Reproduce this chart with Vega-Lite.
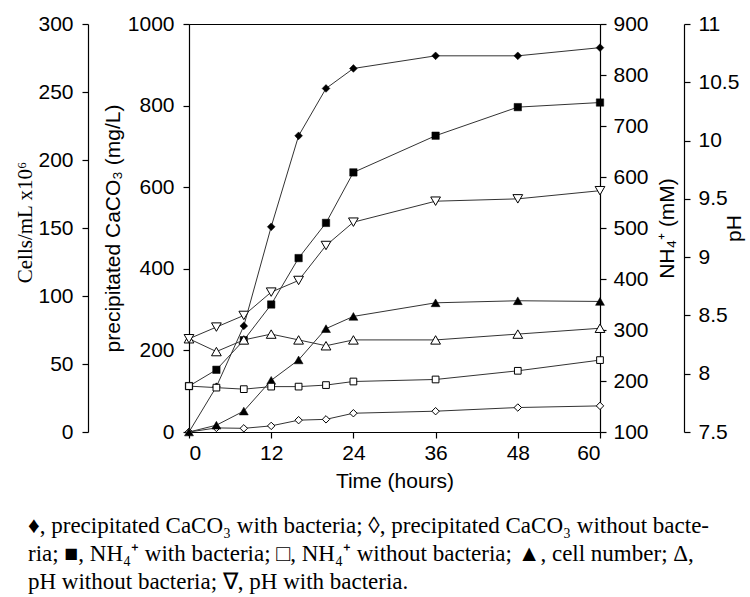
{
  "$schema": "https://vega.github.io/schema/vega-lite/v6.json",
  "width": 411,
  "height": 408,
  "autosize": {"type": "none"},
  "padding": {"left": 189, "top": 24, "right": 150, "bottom": 165},
  "background": "white",
  "config": {
    "view": {"stroke": "black", "strokeWidth": 1},
    "axis": {
      "grid": false,
      "domainColor": "black",
      "domainWidth": 1.2,
      "tickColor": "black",
      "tickWidth": 1.2,
      "tickSize": 6,
      "labelColor": "black",
      "labelFont": "Liberation Sans",
      "labelFontSize": 21,
      "titleColor": "black",
      "titleFont": "Liberation Sans",
      "titleFontSize": 21,
      "titleFontWeight": "normal"
    }
  },
  "title": {
    "text": [
      "♦, precipitated CaCO₃ with bacteria; ◊, precipitated CaCO₃ without bacte-",
      "ria; ■, NH₄⁺ with bacteria; □, NH₄⁺ without bacteria; ▲, cell number; Δ,",
      "pH without bacteria; ∇, pH with bacteria."
    ],
    "orient": "bottom",
    "anchor": "start",
    "frame": "group",
    "align": "left",
    "dx": -161,
    "offset": 24,
    "font": "Liberation Serif",
    "fontSize": 23,
    "fontWeight": "normal",
    "lineHeight": 28,
    "color": "black"
  },
  "data": {
    "values": [
      {"t": 0, "s": "caco3_b", "v": 0}, {"t": 4, "s": "caco3_b", "v": 111}, {"t": 8, "s": "caco3_b", "v": 260}, {"t": 12, "s": "caco3_b", "v": 503}, {"t": 16, "s": "caco3_b", "v": 726}, {"t": 20, "s": "caco3_b", "v": 842}, {"t": 24, "s": "caco3_b", "v": 891}, {"t": 36, "s": "caco3_b", "v": 922}, {"t": 48, "s": "caco3_b", "v": 922}, {"t": 60, "s": "caco3_b", "v": 942},
      {"t": 0, "s": "caco3_n", "v": 0}, {"t": 4, "s": "caco3_n", "v": 10}, {"t": 8, "s": "caco3_n", "v": 9}, {"t": 12, "s": "caco3_n", "v": 15}, {"t": 16, "s": "caco3_n", "v": 29}, {"t": 20, "s": "caco3_n", "v": 31}, {"t": 24, "s": "caco3_n", "v": 46}, {"t": 36, "s": "caco3_n", "v": 51}, {"t": 48, "s": "caco3_n", "v": 60}, {"t": 60, "s": "caco3_n", "v": 64},
      {"t": 0, "s": "nh4_b", "v": 190}, {"t": 4, "s": "nh4_b", "v": 222}, {"t": 8, "s": "nh4_b", "v": 280}, {"t": 12, "s": "nh4_b", "v": 350}, {"t": 16, "s": "nh4_b", "v": 441}, {"t": 20, "s": "nh4_b", "v": 510}, {"t": 24, "s": "nh4_b", "v": 609}, {"t": 36, "s": "nh4_b", "v": 681}, {"t": 48, "s": "nh4_b", "v": 737}, {"t": 60, "s": "nh4_b", "v": 746},
      {"t": 0, "s": "nh4_n", "v": 190}, {"t": 4, "s": "nh4_n", "v": 187}, {"t": 8, "s": "nh4_n", "v": 184}, {"t": 12, "s": "nh4_n", "v": 189}, {"t": 16, "s": "nh4_n", "v": 189}, {"t": 20, "s": "nh4_n", "v": 192}, {"t": 24, "s": "nh4_n", "v": 199}, {"t": 36, "s": "nh4_n", "v": 203}, {"t": 48, "s": "nh4_n", "v": 220}, {"t": 60, "s": "nh4_n", "v": 241},
      {"t": 0, "s": "cells", "v": 0}, {"t": 4, "s": "cells", "v": 5}, {"t": 8, "s": "cells", "v": 15.4}, {"t": 12, "s": "cells", "v": 38}, {"t": 16, "s": "cells", "v": 53}, {"t": 20, "s": "cells", "v": 76}, {"t": 24, "s": "cells", "v": 85}, {"t": 36, "s": "cells", "v": 95}, {"t": 48, "s": "cells", "v": 96.5}, {"t": 60, "s": "cells", "v": 96},
      {"t": 0, "s": "ph_n", "v": 8.30}, {"t": 4, "s": "ph_n", "v": 8.19}, {"t": 8, "s": "ph_n", "v": 8.29}, {"t": 12, "s": "ph_n", "v": 8.34}, {"t": 16, "s": "ph_n", "v": 8.29}, {"t": 20, "s": "ph_n", "v": 8.24}, {"t": 24, "s": "ph_n", "v": 8.29}, {"t": 36, "s": "ph_n", "v": 8.29}, {"t": 48, "s": "ph_n", "v": 8.34}, {"t": 60, "s": "ph_n", "v": 8.39},
      {"t": 0, "s": "ph_b", "v": 8.30}, {"t": 4, "s": "ph_b", "v": 8.40}, {"t": 8, "s": "ph_b", "v": 8.50}, {"t": 12, "s": "ph_b", "v": 8.70}, {"t": 16, "s": "ph_b", "v": 8.80}, {"t": 20, "s": "ph_b", "v": 9.10}, {"t": 24, "s": "ph_b", "v": 9.30}, {"t": 36, "s": "ph_b", "v": 9.48}, {"t": 48, "s": "ph_b", "v": 9.50}, {"t": 60, "s": "ph_b", "v": 9.57}
    ]
  },
  "encoding": {
    "x": {
      "field": "t",
      "type": "quantitative",
      "scale": {"domain": [0, 60], "nice": false},
      "axis": {"values": [0, 12, 24, 36, 48, 60], "title": "Time (hours)", "titleY": 49, "titleBaseline": "middle", "labelPadding": 4}
    }
  },
  "layer": [
    {
      "transform": [{"filter": "datum.s == 'caco3_b' || datum.s == 'caco3_n'"}],
      "encoding": {
        "y": {
          "field": "v", "type": "quantitative",
          "scale": {"domain": [0, 1000], "nice": false},
          "axis": {"orient": "left", "offset": 0, "values": [0, 200, 400, 600, 800, 1000], "format": "d", "labelPadding": 9,
                   "title": "precipitated CaCO₃ (mg/L)", "titleX": -76, "titleY": 204, "titleAngle": 270, "titleBaseline": "middle", "titleAlign": "center"}
        }
      },
      "layer": [
        {"mark": {"type": "line", "color": "#333333", "strokeWidth": 1}, "encoding": {"detail": {"field": "s"}}},
        {"transform": [{"filter": "datum.s == 'caco3_b'"}], "mark": {"type": "point", "shape": "diamond", "filled": true, "fill": "black", "stroke": "black", "strokeWidth": 0.5, "size": 60, "opacity": 1}},
        {"transform": [{"filter": "datum.s == 'caco3_n'"}], "mark": {"type": "point", "shape": "diamond", "filled": true, "fill": "white", "stroke": "black", "strokeWidth": 1, "size": 55, "opacity": 1}}
      ]
    },
    {
      "transform": [{"filter": "datum.s == 'cells'"}],
      "encoding": {
        "y": {
          "field": "v", "type": "quantitative",
          "scale": {"domain": [0, 300], "nice": false},
          "axis": {"orient": "left", "offset": 101, "values": [0, 50, 100, 150, 200, 250, 300], "labelPadding": 9,
                   "title": "Cells/mL x10⁶", "titleColor": "#000000", "titleFont": "Liberation Serif", "titleFontSize": 21, "titleX": -63, "titleY": 198, "titleAngle": 270, "titleBaseline": "middle", "titleAlign": "center"}
        }
      },
      "layer": [
        {"mark": {"type": "line", "color": "#333333", "strokeWidth": 1}, "encoding": {}},
        {"mark": {"type": "point", "shape": "triangle-up", "filled": true, "fill": "black", "stroke": "black", "strokeWidth": 0.5, "size": 80, "opacity": 1}}
      ]
    },
    {
      "transform": [{"filter": "datum.s == 'nh4_b' || datum.s == 'nh4_n'"}],
      "encoding": {
        "y": {
          "field": "v", "type": "quantitative",
          "scale": {"domain": [100, 900], "nice": false},
          "axis": {"orient": "right", "offset": 0, "values": [100, 200, 300, 400, 500, 600, 700, 800, 900], "labelPadding": 7,
                   "title": "NH₄⁺ (mM)", "titleX": 67, "titleY": 204, "titleAngle": 270, "titleBaseline": "middle", "titleAlign": "center"}
        }
      },
      "layer": [
        {"mark": {"type": "line", "color": "#333333", "strokeWidth": 1}, "encoding": {"detail": {"field": "s"}}},
        {"transform": [{"filter": "datum.s == 'nh4_b'"}], "mark": {"type": "point", "shape": "square", "filled": true, "fill": "black", "stroke": "black", "strokeWidth": 0.5, "size": 55, "opacity": 1}},
        {"transform": [{"filter": "datum.s == 'nh4_n'"}], "mark": {"type": "point", "shape": "square", "filled": true, "fill": "white", "stroke": "black", "strokeWidth": 1, "size": 45, "opacity": 1}}
      ]
    },
    {
      "transform": [{"filter": "datum.s == 'ph_b' || datum.s == 'ph_n'"}],
      "encoding": {
        "y": {
          "field": "v", "type": "quantitative",
          "scale": {"domain": [7.5, 11], "nice": false},
          "axis": {"orient": "right", "offset": 84, "values": [7.5, 8, 8.5, 9, 9.5, 10, 10.5, 11], "format": "~g", "labelPadding": 8,
                   "title": "pH", "titleX": 50, "titleY": 204, "titleAngle": 270, "titleBaseline": "middle", "titleAlign": "center"}
        }
      },
      "layer": [
        {"mark": {"type": "line", "color": "#333333", "strokeWidth": 1}, "encoding": {"detail": {"field": "s"}}},
        {"transform": [{"filter": "datum.s == 'ph_n'"}], "mark": {"type": "point", "shape": "triangle-up", "filled": true, "fill": "white", "stroke": "black", "strokeWidth": 1, "size": 95, "opacity": 1}},
        {"transform": [{"filter": "datum.s == 'ph_b'"}], "mark": {"type": "point", "shape": "triangle-down", "filled": true, "fill": "white", "stroke": "black", "strokeWidth": 1, "size": 95, "opacity": 1}}
      ]
    }
  ],
  "resolve": {"scale": {"y": "independent"}}
}
